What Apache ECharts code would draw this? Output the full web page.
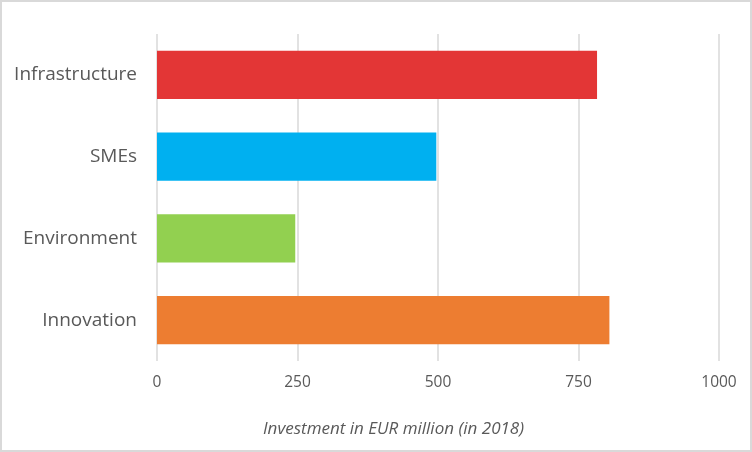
<!DOCTYPE html>
<html><head><meta charset="utf-8">
<script src="https://cdn.jsdelivr.net/npm/echarts@6/dist/echarts.min.js"></script>
<style>html,body{margin:0;padding:0;background:#fff}
#c{width:752px;height:452px;box-sizing:border-box;border:2px solid #d9d9d9}</style>
</head><body><div id="c"></div>
<script>
const categories = ['Innovation', 'Environment', 'SMEs', 'Infrastructure'];
const values = [805, 246, 497, 783];
const barColors = ['#ED7D31', '#92D050', '#00B0F0', '#E33636'];
const xTicks = [0, 250, 500, 750, 1000];
const axisTitle = 'Investment in EUR million (in 2018)';

const chart = echarts.init(document.getElementById('c'), null, {renderer: 'canvas'});
chart.setOption({
  animation: false,
  title: {
    text: axisTitle, left: 256, top: 414,
    textStyle: {fontFamily: 'Open Sans', fontStyle: 'italic', fontWeight: 'normal', fontSize: 17, color: '#595959'}
  },
  grid: {left: 155, right: 31, top: 32, bottom: 89},
  xAxis: {
    type: 'value', min: xTicks[0], max: xTicks[xTicks.length - 1], interval: 250,
    axisLine: {show: false}, axisTick: {show: false},
    axisLabel: {fontFamily: 'Open Sans', fontSize: 15.5, color: '#595959', margin: 14,
      formatter: v => String(v)},
    splitLine: {lineStyle: {color: '#d9d9d9', width: 1.5}}
  },
  yAxis: {
    type: 'category', data: categories,
    axisLine: {show: false}, axisTick: {show: false},
    axisLabel: {fontFamily: 'Open Sans', fontSize: 19, color: '#595959', margin: 20}
  },
  series: [{
    type: 'bar', barCategoryGap: '41%',
    data: values.map((v, i) => ({value: v, itemStyle: {color: barColors[i]}}))
  }]
});
</script></body></html>
